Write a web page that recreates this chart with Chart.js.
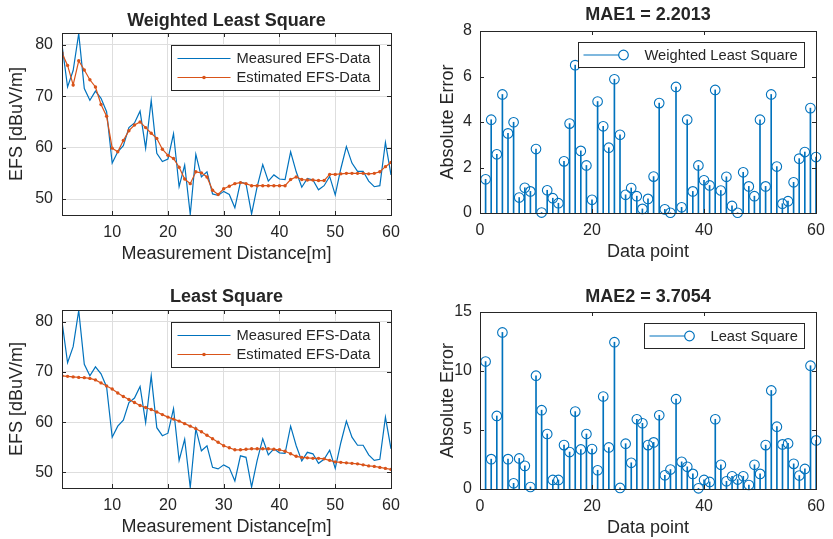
<!DOCTYPE html>
<html>
<head>
<meta charset="utf-8">
<script src="https://cdn.jsdelivr.net/npm/chart.js@4.4.1/dist/chart.umd.min.js"></script>
<style>
  html, body { margin: 0; padding: 0; background: #fff; }
  #page { position: relative; width: 833px; height: 539px; overflow: hidden; }
  canvas { position: absolute; }
</style>
</head>
<body>
<div id="page">
  <canvas id="wlsFit" width="416" height="270" style="left:0;top:0"></canvas>
  <canvas id="wlsErr" width="413" height="270" style="left:420px;top:0"></canvas>
  <canvas id="lsFit" width="416" height="259" style="left:0;top:280px"></canvas>
  <canvas id="lsErr" width="413" height="259" style="left:420px;top:280px"></canvas>
</div>
<script>
(() => {
  'use strict'

  const FONT = '"Liberation Sans", Arial, Helvetica, sans-serif'
  const INK = '#262626'
  const BLUE = '#0072BD'
  const ORANGE = '#D95319'
  const GRID = '#dedede'

  // distance [m] / data point index
  const distance = [
    1, 2, 3, 4, 5, 6, 7, 8, 9, 10, 11, 12, 13, 14, 15, 16, 17, 18, 19, 20,
    21, 22, 23, 24, 25, 26, 27, 28, 29, 30, 31, 32, 33, 34, 35, 36, 37, 38, 39, 40,
    41, 42, 43, 44, 45, 46, 47, 48, 49, 50, 51, 52, 53, 54, 55, 56, 57, 58, 59, 60
  ]
  const measured = [
    80.0, 71.8, 75.0, 82.2, 71.5, 69.2, 71.0, 69.6, 67.0, 57.0,
    59.2, 60.4, 63.9, 64.8, 67.1, 59.9, 69.2, 58.9, 57.3, 57.8,
    62.7, 52.4, 56.6, 47.0, 58.7, 54.3, 55.3, 51.0, 50.7, 51.5,
    50.9, 48.3, 53.3, 53.0, 47.1, 52.4, 56.7, 53.5, 54.7, 53.9,
    53.8, 59.2, 55.3, 52.3, 54.0, 53.7, 51.8, 52.6, 54.4, 50.8,
    55.9, 60.2, 57.0, 55.4, 55.4, 53.5, 52.4, 52.6, 61.0, 54.7
  ]
  const estimatedWLS = [
    78.4, 76.0, 72.2, 76.9, 75.1, 73.2, 71.8, 68.4, 66.1, 59.9,
    59.2, 61.4, 63.3, 64.4, 65.0, 63.9, 62.8, 61.8, 59.7, 58.5,
    57.9, 56.2, 53.9, 53.0, 55.3, 55.1, 54.3, 51.7, 50.9, 52.0,
    52.5, 53.0, 53.2, 53.0, 52.6, 52.6, 52.6, 52.6, 52.6, 52.6,
    52.6, 53.8, 54.3, 53.8, 53.7, 53.7, 53.6, 53.6, 54.8, 54.8,
    54.9, 55.0, 55.0, 55.0, 55.0, 54.9, 55.0, 55.3, 56.3, 57.1
  ]
  const estimatedLS = [
    69.2, 69.1, 69.0, 68.9, 68.85, 68.7, 68.4, 67.8, 67.2, 66.6,
    65.8, 65.1, 64.5, 63.9, 63.3, 62.9, 62.5, 62.0, 61.5, 61.0,
    60.6, 60.2, 59.7, 59.2, 58.7, 58.1, 57.4, 56.7, 56.0, 55.3,
    54.9, 54.5, 54.5, 54.6, 54.7, 54.7, 54.7, 54.7, 54.6, 54.5,
    54.2, 53.7, 53.2, 53.0, 52.9, 52.8, 52.8, 52.7, 52.4, 52.1,
    52.0, 51.9, 51.8, 51.7, 51.5, 51.3, 51.2, 51.0, 50.8, 50.6
  ]
  const absErrorWLS = [
    1.48, 4.10, 2.58, 5.21, 3.50, 3.99, 0.68, 1.11, 0.95, 2.81,
    0.02, 1.00, 0.65, 0.43, 2.27, 3.93, 6.50, 2.73, 2.09, 0.58,
    4.90, 3.81, 2.87, 5.88, 3.44, 0.80, 1.10, 0.74, 0.18, 0.62,
    1.60, 4.83, 0.16, 0.01, 5.54, 0.25, 4.10, 0.95, 2.09, 1.44,
    1.21, 5.41, 0.99, 1.59, 0.31, 0.01, 1.79, 1.17, 0.74, 4.10,
    1.17, 5.21, 2.04, 0.41, 0.52, 1.35, 2.39, 2.68, 4.61, 2.46
  ]
  const absErrorLS = [
    10.8, 2.53, 6.19, 13.27, 2.53, 0.48, 2.59, 1.96, 0.17, 9.60,
    6.68, 4.66, 0.77, 0.77, 3.72, 3.13, 6.56, 3.35, 4.66, 3.38,
    1.59, 7.84, 3.52, 12.44, 0.09, 3.84, 2.22, 5.91, 5.57, 3.72,
    3.95, 6.25, 1.16, 1.65, 7.61, 2.30, 1.88, 1.28, 0.06, 0.77,
    0.60, 5.91, 2.05, 0.65, 1.08, 0.80, 1.08, 0.34, 2.05, 1.28,
    3.72, 8.35, 5.28, 3.78, 3.86, 2.13, 1.14, 1.70, 10.45, 4.12
  ]

  const efsTicksX = [10, 20, 30, 40, 50, 60]
  const efsTicksY = [50, 60, 70, 80]
  const errTicksX = [0, 20, 40, 60]
  const errTicksWLS = [0, 2, 4, 6, 8]
  const errTicksLS = [0, 5, 10, 15]

  Chart.defaults.font.family = FONT
  Chart.defaults.color = INK

  const xy = (xs, ys) => ys.map((y, i) => ({ x: xs[i], y }))
  const fixedTicks = list => scale => { scale.ticks = list.map(v => ({ value: v })) }

  // matlab style box with inward ticks on all four sides
  const axisBox = {
    id: 'axisBox',
    afterDatasetsDraw (chart) {
      const { ctx, chartArea: a, scales: { x, y } } = chart
      const L = 4
      ctx.save()
      ctx.strokeStyle = INK
      ctx.lineWidth = 1
      ctx.beginPath()
      x.ticks.forEach(t => {
        const px = Math.round(x.getPixelForValue(t.value)) + 0.5
        ctx.moveTo(px, a.bottom); ctx.lineTo(px, a.bottom - L)
        ctx.moveTo(px, a.top); ctx.lineTo(px, a.top + L)
      })
      y.ticks.forEach(t => {
        const py = Math.round(y.getPixelForValue(t.value)) + 0.5
        ctx.moveTo(a.left, py); ctx.lineTo(a.left + L, py)
        ctx.moveTo(a.right, py); ctx.lineTo(a.right - L, py)
      })
      ctx.stroke()
      ctx.strokeRect(Math.round(a.left) + 0.5, Math.round(a.top) + 0.5,
        Math.round(a.right - a.left), Math.round(a.bottom - a.top))
      ctx.restore()
    }
  }

  // legend box drawn inside the plot, top right (like matlab 'northeast')
  const insetLegend = {
    id: 'insetLegend',
    afterDraw (chart, args, o) {
      const { ctx, chartArea: a } = chart
      const items = chart.data.datasets.filter(d => d.label)
      ctx.save()
      ctx.font = `${o.fontSize}px ${FONT}`
      const textW = Math.max(...items.map(d => ctx.measureText(d.label).width))
      const w = Math.round(o.padL + o.sample + o.gap + textW + o.padR)
      const h = Math.round(o.rowH * items.length + 2 * o.padV)
      const x0 = Math.round(a.right - o.marginR - w) + 0.5
      const y0 = Math.round(a.top + o.marginT) + 0.5
      ctx.fillStyle = '#fff'
      ctx.fillRect(x0, y0, w, h)
      ctx.strokeStyle = INK
      ctx.lineWidth = 1
      ctx.strokeRect(x0, y0, w, h)
      items.forEach((d, i) => {
        const cy = y0 + o.padV + o.rowH * (i + 0.5)
        const sx = x0 + o.padL
        const ex = sx + o.sample
        ctx.strokeStyle = d.borderColor
        ctx.lineWidth = 1.2
        ctx.beginPath(); ctx.moveTo(sx, cy); ctx.lineTo(ex, cy); ctx.stroke()
        if (d.legendMarker === 'dot') {
          ctx.fillStyle = d.borderColor
          ctx.beginPath(); ctx.arc((sx + ex) / 2, cy, 1.8, 0, 2 * Math.PI); ctx.fill()
        }
        if (d.legendMarker === 'circle') {
          ctx.fillStyle = '#fff'
          ctx.beginPath(); ctx.arc(ex, cy, 4.8, 0, 2 * Math.PI); ctx.fill(); ctx.stroke()
        }
        ctx.fillStyle = INK
        ctx.textBaseline = 'middle'
        ctx.textAlign = 'left'
        ctx.fillText(d.label, ex + o.gap, cy + 0.5)
      })
      ctx.restore()
    }
  }

  function fitChart (id, title, estimate, lay) {
    return new Chart(document.getElementById(id), {
      type: 'line',
      data: {
        datasets: [{
          label: 'Measured EFS-Data',
          data: xy(distance, measured),
          borderColor: BLUE,
          borderWidth: 1.2,
          pointRadius: 0,
          tension: 0,
          order: 2,
          legendMarker: 'none'
        },
        {
          label: 'Estimated EFS-Data',
          data: xy(distance, estimate),
          borderColor: ORANGE,
          backgroundColor: ORANGE,
          pointBackgroundColor: ORANGE,
          borderWidth: 1.2,
          pointRadius: 1.7,
          pointBorderWidth: 0,
          tension: 0,
          order: 1,
          legendMarker: 'dot'
        }]
      },
      options: {
        responsive: false,
        animation: false,
        events: [],
        layout: { padding: lay.padding },
        plugins: {
          legend: { display: false },
          tooltip: { enabled: false },
          title: {
            display: true,
            text: title,
            fullSize: false,
            color: INK,
            font: { size: 18, weight: 'bold' },
            padding: lay.titlePad
          },
          insetLegend: { fontSize: 14.7, marginR: 12, marginT: 12, padL: 6, sample: 53, gap: 6, padR: 9, rowH: 19, padV: 3.5 }
        },
        scales: {
          x: {
            type: 'linear',
            min: 1,
            max: 60,
            afterBuildTicks: fixedTicks(efsTicksX),
            afterFit: s => { s.height = 50 },
            grid: { color: GRID, drawTicks: false },
            border: { display: false },
            ticks: { font: { size: 16 }, padding: 8, autoSkip: false, maxRotation: 0 },
            title: { display: true, text: 'Measurement Distance[m]', font: { size: 18 }, padding: { top: 0, bottom: lay.xTitleBottom } }
          },
          y: {
            min: 46.9,
            max: 82.3,
            afterBuildTicks: fixedTicks(efsTicksY),
            afterFit: s => { s.width = 62 },
            grid: { color: GRID, drawTicks: false },
            border: { display: false },
            ticks: { font: { size: 16 }, padding: 9 },
            title: { display: true, text: 'EFS [dBuV/m]', font: { size: 18 }, padding: { top: 6, bottom: 0 } }
          }
        }
      },
      plugins: [axisBox, insetLegend]
    })
  }

  function errChart (id, title, label, errors, yMax, yTicks, lay) {
    return new Chart(document.getElementById(id), {
      type: 'bar',
      data: {
        datasets: [{
          type: 'bar',
          data: xy(distance, errors),
          backgroundColor: BLUE,
          barThickness: 1,
          order: 2
        },
        {
          type: 'line',
          label: label,
          data: xy(distance, errors),
          showLine: false,
          borderColor: BLUE,
          pointBorderColor: BLUE,
          pointBackgroundColor: 'rgba(0,0,0,0)',
          pointRadius: 4.8,
          pointBorderWidth: 1.1,
          clip: false,
          order: 1,
          legendMarker: 'circle'
        }]
      },
      options: {
        responsive: false,
        animation: false,
        events: [],
        layout: { padding: lay.padding },
        plugins: {
          legend: { display: false },
          tooltip: { enabled: false },
          title: {
            display: true,
            text: title,
            fullSize: false,
            color: INK,
            font: { size: 18, weight: 'bold' },
            padding: lay.titlePad
          },
          insetLegend: { fontSize: 14.7, marginR: 12, marginT: 11, padL: 5, sample: 40, gap: 21, padR: 7, rowH: 19, padV: 3 }
        },
        scales: {
          x: {
            type: 'linear',
            min: 0,
            max: 60,
            offset: false,
            afterBuildTicks: fixedTicks(errTicksX),
            afterFit: s => { s.height = 50 },
            grid: { display: false, drawTicks: false },
            border: { display: false },
            ticks: { font: { size: 16 }, padding: 8, autoSkip: false, maxRotation: 0 },
            title: { display: true, text: 'Data point', font: { size: 18 }, padding: { top: 0, bottom: 0 } }
          },
          y: {
            min: 0,
            max: yMax,
            afterBuildTicks: fixedTicks(yTicks),
            afterFit: s => { s.width = 60 },
            grid: { display: false, drawTicks: false },
            border: { display: false },
            ticks: { font: { size: 16 }, padding: 8 },
            title: { display: true, text: 'Absolute Error', font: { size: 18 }, padding: { top: 17, bottom: 0 } }
          }
        }
      },
      plugins: [axisBox, insetLegend]
    })
  }

  fitChart('wlsFit', 'Weighted Least Square', estimatedWLS, {
    padding: { left: 0, top: 0, right: 25, bottom: 5 },
    titlePad: { top: 10, bottom: 1.4 },
    xTitleBottom: 0
  })
  fitChart('lsFit', 'Least Square', estimatedLS, {
    padding: { left: 0, top: 0, right: 25, bottom: 1 },
    titlePad: { top: 6.2, bottom: 2.2 },
    xTitleBottom: 0
  })
  errChart('wlsErr', 'MAE1 = 2.2013', 'Weighted Least Square', absErrorWLS, 8, errTicksWLS, {
    padding: { left: 0, top: 0, right: 17, bottom: 7 },
    titlePad: { top: 4.2, bottom: 5.2 }
  })
  errChart('lsErr', 'MAE2 = 3.7054', 'Least Square', absErrorLS, 15, errTicksLS, {
    padding: { left: 0, top: 0, right: 8, bottom: 0 },
    titlePad: { top: 6.2, bottom: 4.2 }
  })
})()
</script>
</body>
</html>
